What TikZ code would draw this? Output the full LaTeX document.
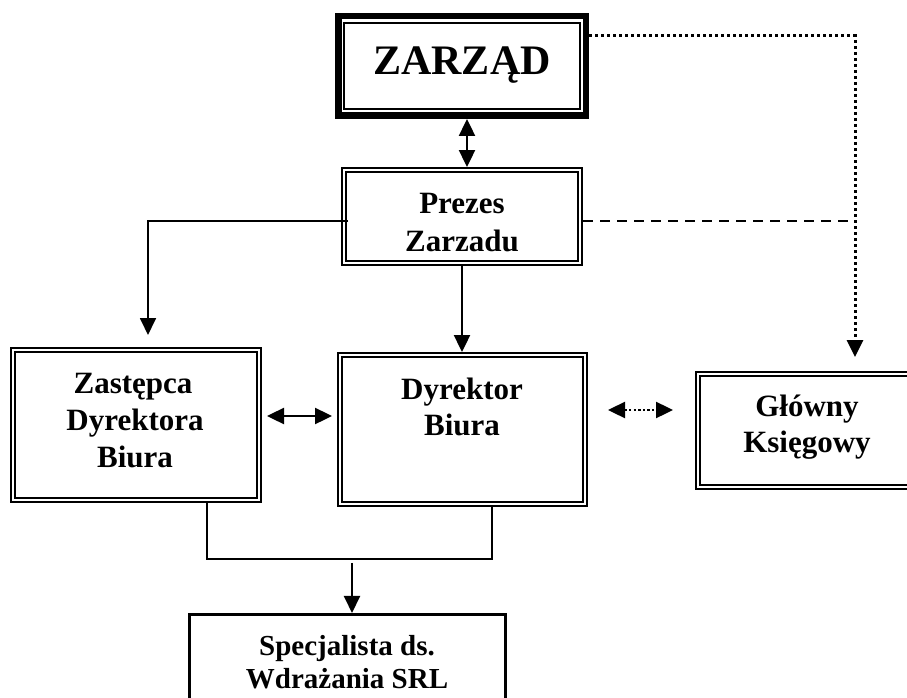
\documentclass[tikz,border=0pt]{standalone}
\usepackage{fontspec}
\setmainfont{Liberation Serif}
\usetikzlibrary{arrows.meta,calc}
\begin{document}
\begin{tikzpicture}[x=1pt,y=-1pt,
  >={Triangle[length=17pt,width=16pt]},
  dbl/.style={draw, line width=2.3pt, double, double distance=1.8pt, outer sep=3.2pt, inner sep=0pt},
  thick frame/.style={draw, line width=6.5pt, outer sep=3.25pt, inner sep=0pt},
  single/.style={draw, line width=2.6pt, inner sep=0pt},
  txt/.style={font=\bfseries\fontsize{31}{37}\selectfont, inner sep=0pt, anchor=base},
  bigtxt/.style={font=\bfseries\fontsize{42}{50}\selectfont, inner sep=0pt, anchor=base},
  smalltxt/.style={font=\bfseries\fontsize{29}{34}\selectfont, inner sep=0pt, anchor=base},
  conn/.style={line width=2.4pt},
  thinconn/.style={line width=1.8pt},
  dotconn/.style={line width=3pt, dash pattern=on 3pt off 3pt},
  smalldot/.style={line width=2.4pt, dash pattern=on 2.4pt off 2.2pt},
  dashconn/.style={line width=1.5pt, dash pattern=on 10pt off 7pt}
]
\useasboundingbox (0,0) rectangle (907,698);
\clip (0,0) rectangle (907,698);

% boxes
\node[thick frame, minimum width=247.5pt, minimum height=99.5pt] (Z) at (462,66) {};
\draw[line width=1.6pt] ([xshift=9pt,yshift=-10pt]Z.north west) rectangle ([xshift=-9pt,yshift=10pt]Z.south east);
\node[dbl, minimum width=235.6pt, minimum height=92.6pt] (P) at (462,216.5) {};
\node[dbl, minimum width=245.6pt, minimum height=149.6pt] (Zs) at (136,425) {};
\node[dbl, minimum width=244.6pt, minimum height=148.6pt] (D) at (462.5,429.5) {};
\node[dbl, minimum width=217.6pt, minimum height=112.6pt] (G) at (807,430.5) {};
\node[single, minimum width=316.4pt, minimum height=105.5pt] (S) at (347.5,667) {};

% texts
\node[bigtxt] (tZ) at (462,75) {ZARZĄD};
\node[txt] (tP1) at (462,213) {Prezes};
\node[txt] (tP2) at (462,251) {Zarzadu};
\node[txt] (tZs1) at (133,393) {Zastępca};
\node[txt] (tZs2) at (135,430) {Dyrektora};
\node[txt] (tZs3) at (135,467) {Biura};
\node[txt] (tD1) at (462,399) {Dyrektor};
\node[txt] (tD2) at (462,435) {Biura};
\node[txt] (tG1) at (807,416) {Główny};
\node[txt] (tG2) at (807,452) {Księgowy};
\node[smalltxt] (tS1) at (347,655) {Specjalista ds.};
\node[smalltxt] (tS2) at (347,688) {Wdrażania SRL};

% connectors
\coordinate (kc) at ([xshift=48pt]G.north);
\coordinate (j) at ([xshift=4.5pt,yshift=54pt]S.north);

\draw[conn,<->] ([xshift=5pt]Z.south) -- ([xshift=5pt]P.north);
\draw[thinconn,->] ([xshift=7pt,yshift=-4.5pt]P.west) -| ([xshift=12pt,yshift=12pt]Zs.north);
\draw[conn,->] (P.south) -- (P.south |- D.north);
\draw[conn,<->] ([xshift=5pt,yshift=9pt]Zs.east) -- ([xshift=-5pt,yshift=9pt]Zs.east -| D.west);
\draw[smalldot,<->] ([xshift=20pt,yshift=19.5pt]D.east) -- ([xshift=-22pt,yshift=20.5pt]G.west);
\draw[dotconn,->] ([xshift=-6pt,yshift=30pt]Z.east) -| ([yshift=14pt]kc);
\draw[dashconn] ([yshift=-4.5pt]P.east) -- ([yshift=-4.5pt]P.east -| kc);
\draw[thinconn] ([xshift=71pt]Zs.south) |- (j) -| ([xshift=29.5pt]D.south);
\draw[conn,->] ([yshift=-4pt]j) -- (j |- S.north);
\end{tikzpicture}
\end{document}
